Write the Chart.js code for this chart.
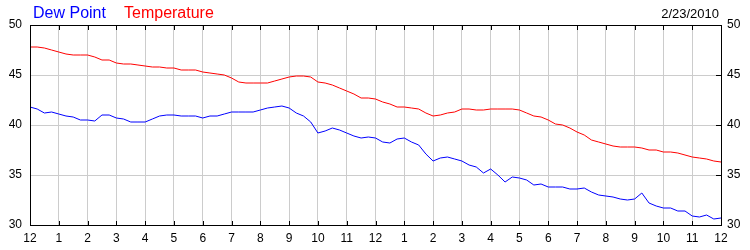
<!DOCTYPE html>
<html>
<head>
<meta charset="utf-8">
<script src="https://cdn.jsdelivr.net/npm/chart.js@4.4.1/dist/chart.umd.min.js"></script>
<style>
  html, body { margin: 0; padding: 0; background: #fff; }
  #wrap { width: 750px; height: 250px; }
</style>
</head>
<body>
<div id="wrap"><canvas id="myChart" width="750" height="250"></canvas></div>
<script>
// quarter-hour readings, 12am to 12am
const hours = [
  0, 0.25, 0.5, 0.75, 1, 1.25, 1.5, 1.75, 2, 2.25, 2.5, 2.75,
  3, 3.25, 3.5, 3.75, 4, 4.25, 4.5, 4.75, 5, 5.25, 5.5, 5.75,
  6, 6.25, 6.5, 6.75, 7, 7.25, 7.5, 7.75, 8, 8.25, 8.5, 8.75,
  9, 9.25, 9.5, 9.75, 10, 10.25, 10.5, 10.75, 11, 11.25, 11.5, 11.75,
  12, 12.25, 12.5, 12.75, 13, 13.25, 13.5, 13.75, 14, 14.25, 14.5, 14.75,
  15, 15.25, 15.5, 15.75, 16, 16.25, 16.5, 16.75, 17, 17.25, 17.5, 17.75,
  18, 18.25, 18.5, 18.75, 19, 19.25, 19.5, 19.75, 20, 20.25, 20.5, 20.75,
  21, 21.25, 21.5, 21.75, 22, 22.25, 22.5, 22.75, 23, 23.25, 23.5, 23.75,
  24
];
const temperature = [
  47.8, 47.8, 47.7, 47.5, 47.3, 47.1, 47.0, 47.0, 47.0, 46.8, 46.5, 46.5,
  46.2, 46.1, 46.1, 46.0, 45.9, 45.8, 45.8, 45.7, 45.7, 45.5, 45.5, 45.5,
  45.3, 45.2, 45.1, 45.0, 44.7, 44.3, 44.2, 44.2, 44.2, 44.2, 44.4, 44.6,
  44.8, 44.9, 44.9, 44.8, 44.3, 44.2, 44.0, 43.7, 43.4, 43.1, 42.7, 42.7,
  42.6, 42.3, 42.1, 41.8, 41.8, 41.7, 41.6, 41.2, 40.9, 41.0, 41.2, 41.3,
  41.6, 41.6, 41.5, 41.5, 41.6, 41.6, 41.6, 41.6, 41.5, 41.2, 40.9, 40.8,
  40.5, 40.1, 40.0, 39.7, 39.3, 39.0, 38.5, 38.3, 38.1, 37.9, 37.8, 37.8,
  37.8, 37.7, 37.5, 37.5, 37.3, 37.3, 37.2, 37.0, 36.8, 36.7, 36.6, 36.4,
  36.3
];
const dewPoint = [
  41.8, 41.6, 41.2, 41.3, 41.1, 40.9, 40.8, 40.5, 40.5, 40.4, 41.0, 41.0,
  40.7, 40.6, 40.3, 40.3, 40.3, 40.6, 40.9, 41.0, 41.0, 40.9, 40.9, 40.9,
  40.7, 40.9, 40.9, 41.1, 41.3, 41.3, 41.3, 41.3, 41.5, 41.7, 41.8, 41.9,
  41.7, 41.2, 40.9, 40.3, 39.2, 39.4, 39.7, 39.5, 39.2, 38.9, 38.7, 38.8,
  38.7, 38.3, 38.2, 38.6, 38.7, 38.3, 38.0, 37.1, 36.4, 36.7, 36.8, 36.6,
  36.4, 36.0, 35.8, 35.2, 35.6, 35.0, 34.3, 34.8, 34.7, 34.5, 34.0, 34.1,
  33.8, 33.8, 33.8, 33.6, 33.6, 33.7, 33.3, 33.0, 32.9, 32.8, 32.6, 32.5,
  32.6, 33.2, 32.2, 31.9, 31.7, 31.7, 31.4, 31.4, 30.9, 30.8, 31.0, 30.6,
  30.7
];
const hourLabels = ['12', '1', '2', '3', '4', '5', '6', '7', '8', '9', '10', '11',
  '12', '1', '2', '3', '4', '5', '6', '7', '8', '9', '10', '11', '12'];
const yTicks = [30, 35, 40, 45, 50];
const dateText = '2/23/2010';

const FONT = '"Liberation Sans", Arial, sans-serif';

function toPoints(vals) {
  return vals.map((v, i) => ({ x: hours[i], y: v }));
}

// frame, inside tick marks and the header texts
const framePlugin = {
  id: 'frame',
  afterDatasetsDraw(chart) {
    const ctx = chart.ctx;
    const a = chart.chartArea;
    const xs = chart.scales.x;
    const yr = chart.scales.y2;
    ctx.save();
    ctx.strokeStyle = '#000';
    ctx.lineWidth = 1;
    ctx.beginPath();
    for (let i = 0; i <= 24; i++) {
      const px = Math.round(xs.getPixelForValue(i)) + 0.5;
      ctx.moveTo(px, a.bottom);
      ctx.lineTo(px, a.bottom - 4);
      ctx.moveTo(px, a.top);
      ctx.lineTo(px, a.top + 5);
    }
    yTicks.forEach(v => {
      const py = Math.round(yr.getPixelForValue(v)) + 0.5;
      ctx.moveTo(a.right, py);
      ctx.lineTo(a.right - 5, py);
    });
    ctx.stroke();
    ctx.strokeRect(Math.round(a.left) + 0.5, Math.round(a.top) + 0.5,
      Math.round(a.right - a.left), Math.round(a.bottom - a.top));
    ctx.restore();
  },
  afterDraw(chart) {
    const ctx = chart.ctx;
    ctx.save();
    ctx.textBaseline = 'alphabetic';
    ctx.font = '16px ' + FONT;
    ctx.textAlign = 'left';
    ctx.fillStyle = '#0000ff';
    ctx.fillText('Dew Point', 33, 18);
    ctx.fillStyle = '#ff0000';
    ctx.fillText('Temperature', 124, 18);
    ctx.font = '13px ' + FONT;
    ctx.fillStyle = '#000';
    ctx.textAlign = 'right';
    ctx.fillText(dateText, 719, 18);
    ctx.restore();
  }
};

var ctx = document.getElementById('myChart').getContext('2d');
var myChart = new Chart(ctx, {
  type: 'line',
  data: {
    datasets: [{
      label: 'Temperature',
      data: toPoints(temperature),
      borderColor: '#ff0000',
      borderWidth: 1,
      pointRadius: 0,
      tension: 0
    }, {
      label: 'Dew Point',
      data: toPoints(dewPoint),
      borderColor: '#0000ff',
      borderWidth: 1,
      pointRadius: 0,
      tension: 0
    }]
  },
  options: {
    responsive: false,
    animation: false,
    layout: { padding: { top: 25, left: 0, right: 0, bottom: 0 } },
    plugins: {
      legend: { display: false },
      title: { display: false },
      tooltip: { enabled: false }
    },
    scales: {
      x: {
        type: 'linear',
        min: 0,
        max: 24,
        ticks: {
          stepSize: 1,
          autoSkip: false,
          maxRotation: 0,
          padding: 6,
          color: '#000',
          font: { family: FONT, size: 12 },
          callback: (v) => hourLabels[v]
        },
        grid: { color: '#cccccc', drawTicks: false },
        border: { display: false },
        afterFit: (s) => { s.height = 25; }
      },
      y: {
        position: 'left',
        min: 30,
        max: 50,
        ticks: {
          stepSize: 5,
          padding: 8,
          color: '#000',
          font: { family: FONT, size: 12 }
        },
        grid: { color: '#cccccc', drawTicks: false },
        border: { display: false },
        afterFit: (s) => { s.width = 30; }
      },
      y2: {
        position: 'right',
        min: 30,
        max: 50,
        ticks: {
          stepSize: 5,
          padding: 6,
          color: '#000',
          font: { family: FONT, size: 12 }
        },
        grid: { display: false, drawTicks: false },
        border: { display: false },
        afterFit: (s) => { s.width = 29; }
      }
    }
  },
  plugins: [framePlugin]
});
</script>
</body>
</html>
